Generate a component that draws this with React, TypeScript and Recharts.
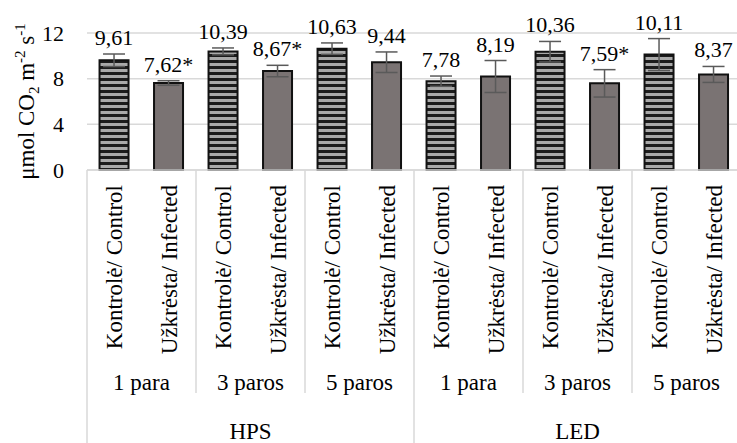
import React from "react";
import { BarChart, Bar, XAxis, YAxis, CartesianGrid, Cell, ErrorBar, LabelList } from "recharts";

const categories = [
  "Kontrolė/ Control", "Užkrėsta/ Infected",
  "Kontrolė/ Control", "Užkrėsta/ Infected",
  "Kontrolė/ Control", "Užkrėsta/ Infected",
  "Kontrolė/ Control", "Užkrėsta/ Infected",
  "Kontrolė/ Control", "Užkrėsta/ Infected",
  "Kontrolė/ Control", "Užkrėsta/ Infected",
];
const subGroups = ["1 para", "3 paros", "5 paros", "1 para", "3 paros", "5 paros"];
const lightGroups = ["HPS", "LED"];
const values = [9.61, 7.62, 10.39, 8.67, 10.63, 9.44, 7.78, 8.19, 10.36, 7.59, 10.11, 8.37];
const errors = [0.55, 0.2, 0.3, 0.5, 0.5, 0.9, 0.45, 1.4, 0.9, 1.2, 1.4, 0.7];
const significant = [false, true, false, true, false, false, false, false, false, true, false, false];
const isControl = [true, false, true, false, true, false, true, false, true, false, true, false];
const yTicks = [0, 4, 8, 12];

const data = values.map((v, i) => ({
  id: "c" + i,
  cat: categories[i],
  value: v,
  err: errors[i],
}));

const FONT = "Liberation Serif";
const GRID = "#d9d9d9";

const CatTick = (props: any) => {
  const { x, y, payload, index, width, visibleTicksCount } = props;
  const i = typeof index === "number" ? index : payload.index;
  const band = typeof width === "number" && visibleTicksCount ? width / visibleTicksCount : 54.45;
  const label = categories[i];
  const els: any[] = [];
  els.push(
    <text key="t" transform={`translate(${x + 8},${y + 15}) rotate(-90)`} textAnchor="end"
      fontFamily={FONT} fontSize={23} fill="#000">{label}</text>
  );
  if (i % 2 === 0) {
    const left = x - band / 2;
    const full = i % 6 === 0;
    els.push(<line key="l" x1={left} x2={left} y1={y} y2={y + (full ? 290 : 223)} stroke={GRID} strokeWidth={1.5} />);
    els.push(
      <text key="g" x={x + band / 2} y={y + 220} textAnchor="middle" fontFamily={FONT} fontSize={23} fill="#000">
        {subGroups[i / 2]}
      </text>
    );
    if (full) {
      els.push(
        <text key="h" x={left + 3 * band} y={y + 269} textAnchor="middle" fontFamily={FONT} fontSize={23} fill="#000">
          {lightGroups[i / 6]}
        </text>
      );
    }
  }
  return <g>{els}</g>;
};

const YLabel = (props: any) => {
  const vb = props.viewBox || { x: 0, y: 33, width: 87, height: 137 };
  const cx = vb.x + 34;
  const cy = vb.y + vb.height / 2;
  return (
    <text transform={`translate(${cx},${cy}) rotate(-90)`} textAnchor="middle" fontFamily={FONT} fontSize={23} fill="#000">
      <tspan>μmol CO</tspan>
      <tspan fontSize={15} dy={5}>2</tspan>
      <tspan dy={-5}> m</tspan>
      <tspan fontSize={15} dy={-9}>-2</tspan>
      <tspan dy={9}> s</tspan>
      <tspan fontSize={15} dy={-9}>-1</tspan>
    </text>
  );
};

const ValueLabel = (props: any) => {
  const { x, y, width, height, index } = props;
  const v = values[index];
  const errPx = v ? (errors[index] * height) / v : 0;
  const txt = v.toFixed(2).replace(".", ",") + (significant[index] ? "*" : "");
  return (
    <text x={x + width / 2} y={y - errPx - 9} textAnchor="middle" fontFamily={FONT} fontSize={22} fill="#000">
      {txt}
    </text>
  );
};

export default function App() {
  return (
    <div style={{ position: "fixed", left: 0, top: 0, width: 737, height: 443, overflow: "hidden", background: "#fff" }}>
      <BarChart width={741} height={443} data={data} margin={{ top: 33, right: 0, left: 0, bottom: 0 }} barCategoryGap="23%">
        <defs>
          <pattern id="stripes" patternUnits="userSpaceOnUse" width={6} height={6}>
            <rect x={0} y={0} width={6} height={6} fill="#a9a9a9" />
            <rect x={0} y={0} width={6} height={3} fill="#1c1c1c" />
          </pattern>
        </defs>
        <CartesianGrid vertical={false} stroke={GRID} strokeWidth={1.5} />
        <XAxis dataKey="id" height={273} interval={0} tickLine={false} tickSize={0} tickMargin={0}
          axisLine={{ stroke: GRID, strokeWidth: 1.5 }} tick={<CatTick />} />
        <YAxis domain={[0, 12]} ticks={yTicks} width={87} axisLine={false} tickLine={false} tickSize={0} tickMargin={23}
          tick={{ fontFamily: FONT, fontSize: 22, fill: "#000" }} label={<YLabel />} />
        <Bar dataKey="value" stroke="#111" strokeWidth={2} isAnimationActive={false}>
          {data.map((d, i) => (
            <Cell key={d.id} fill={isControl[i] ? "url(#stripes)" : "#7a7373"} />
          ))}
          <ErrorBar dataKey="err" width={11} stroke="#5a5a5a" strokeWidth={1.5} direction="y" />
          <LabelList dataKey="value" content={<ValueLabel />} />
        </Bar>
      </BarChart>
    </div>
  );
}
